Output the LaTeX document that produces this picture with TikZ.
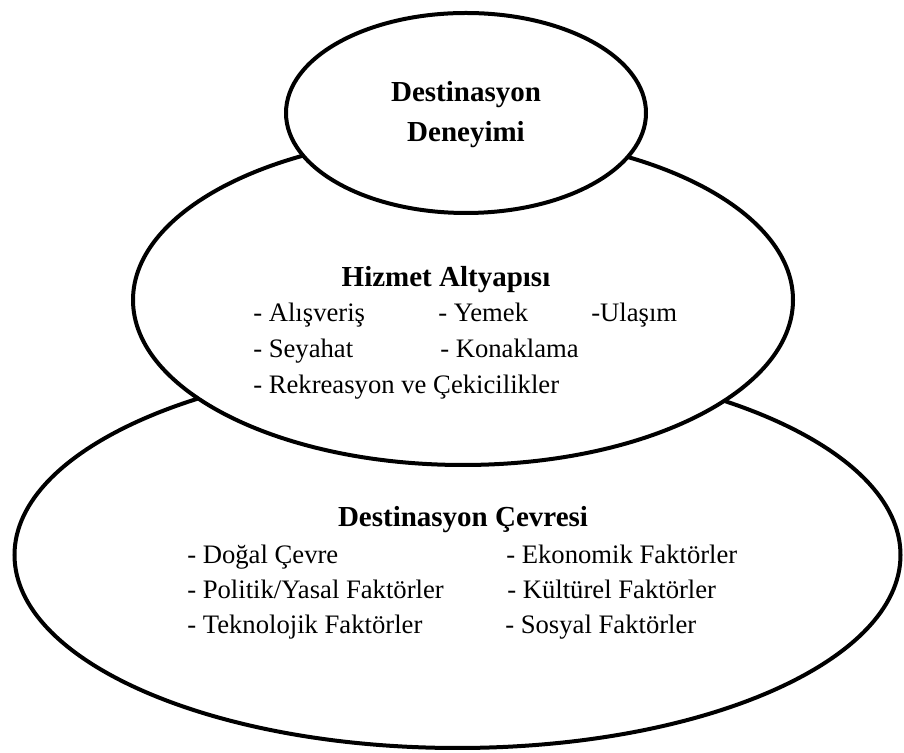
\documentclass[tikz,border=0pt]{standalone}
\usepackage{fontspec}
\setmainfont{LiberationSerif}[Extension=.ttf, UprightFont=*-Regular, BoldFont=*-Bold]
\usepackage{tikz}

\begin{document}
\begin{tikzpicture}[x=0.75pt,y=0.75pt,
		ring/.style={draw, line width=3pt, fill=white},
		head/.style={anchor=base, inner sep=0pt, font=\fontsize{21.75}{26}\selectfont\bfseries},
		item/.style={anchor=base west, inner sep=0pt, font=\fontsize{20}{24}\selectfont}]
		\useasboundingbox (0,0) rectangle (904,753);
		
		% three layers, drawn from the bottom up
		\draw[ring] (457.5,198) ellipse (443 and 193);
		\draw[ring] (463,453) ellipse (330 and 165);
		\draw[ring] (466,640) ellipse (180 and 100);
		
		\node[head] (deneyim1) at (466,651.3) {Destinasyon};
		\node[head] (deneyim2) at (466,611.3) {Deneyimi};
		
		\node[head] (hizmet) at (446,466.3) {Hizmet Altyapısı};
		\foreach \nm/\px/\py/\txt in {alis/253/431.3/{- Alışveriş}, yemek/438/431.3/{- Yemek},
			ulasim/591/431.3/{-Ulaşım}, seyahat/253/395/{- Seyahat},
			konak/440/395/{- Konaklama}, rekre/253/359/{- Rekreasyon ve Çekicilikler}}
			\node[item] (\nm) at (\px,\py) {\txt};
		
		\node[head] (cevre) at (463,226) {Destinasyon Çevresi};
		\foreach \nm/\px/\py/\txt in {dogal/187/189/{- Doğal Çevre}, ekon/506/189/{- Ekonomik Faktörler},
			polit/187/154/{- Politik/Yasal Faktörler}, kult/507/154/{- Kültürel Faktörler},
			tekno/187/119/{- Teknolojik Faktörler}, sosyal/505/119/{- Sosyal Faktörler}}
			\node[item] (\nm) at (\px,\py) {\txt};
	\end{tikzpicture}
\end{document}
